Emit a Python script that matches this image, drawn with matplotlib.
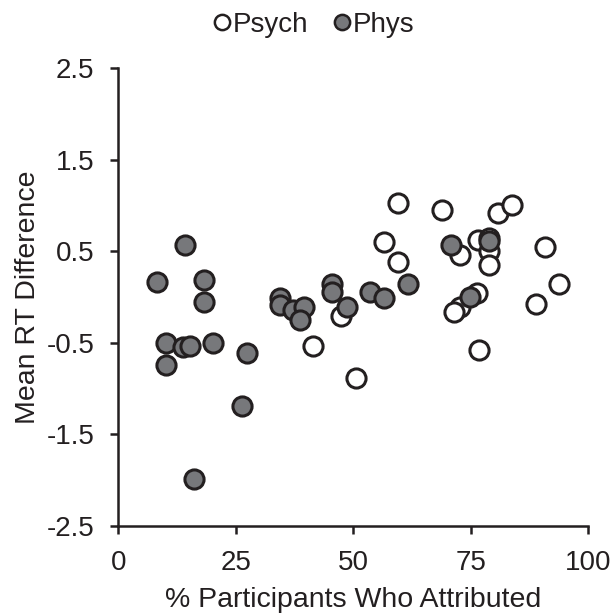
import matplotlib
matplotlib.use('Agg')
import matplotlib.pyplot as plt
from matplotlib.lines import Line2D

plt.rcParams['font.family'] = ['Liberation Sans', 'DejaVu Sans']

# psychological attributions
psych_x = [59.6, 68.8, 56.5, 59.6, 47.3, 41.4, 50.5, 80.8, 83.9, 72.7, 76.6,
           78.9, 78.9, 78.9, 90.8, 93.9, 88.9, 76.3, 72.7, 71.5, 76.8]
psych_y = [1.03, 0.955, 0.605, 0.386, -0.204, -0.532, -0.888, 0.915, 1.006, 0.459, 0.624,
           0.642, 0.50, 0.35, 0.544, 0.143, -0.08, 0.04, -0.105, -0.167, -0.579]

# physical attributions
phys_x = [14.2, 8.1, 18.2, 18.2, 10.1, 13.8, 15.2, 20.2, 10.1, 27.3, 26.2, 16.1, 34.3,
          34.3, 37.2, 39.5, 38.6, 45.4, 45.4, 53.6, 56.5, 48.6, 61.6, 70.8, 78.9, 74.9]
phys_y = [0.57, 0.16, 0.19, -0.057, -0.5, -0.543, -0.535, -0.505, -0.743, -0.615, -1.19, -1.99, -0.014,
          -0.087, -0.14, -0.105, -0.25, 0.143, 0.052, 0.052, -0.007, -0.105, 0.143, 0.565, 0.616, 0.0]

xticks = [0, 25, 50, 75, 100]
yticks = [-2.5, -1.5, -0.5, 0.5, 1.5, 2.5]

edge = '#231f20'
gray = '#77787b'

fig = plt.figure(figsize=(6.13, 6.13), dpi=100)
ax = fig.add_axes([0.1933, 0.1424, 0.7659, 0.7462])

ax.scatter(psych_x, psych_y, s=190, facecolor='white', edgecolor=edge, linewidth=2.2, zorder=3, clip_on=False)
ax.scatter(phys_x, phys_y, s=190, facecolor=gray, edgecolor=edge, linewidth=2.2, zorder=4, clip_on=False)

ax.set_xlim(0, 100)
ax.set_ylim(-2.5, 2.5)
ax.set_xticks(xticks)
ax.set_yticks(yticks)
ax.set_xticklabels([str(t) for t in xticks])
ax.set_yticklabels([str(t) for t in yticks])

for s in ['top', 'right']:
    ax.spines[s].set_visible(False)
for s in ['left', 'bottom']:
    ax.spines[s].set_linewidth(1.8)
    ax.spines[s].set_color(edge)
ax.tick_params(direction='out', length=5.5, width=1.8, color=edge, labelsize=20, labelcolor=edge)
ax.tick_params(axis='x', pad=12)
ax.tick_params(axis='y', pad=12)

ax.set_xlabel('% Participants Who Attributed', fontsize=20.5, color=edge, labelpad=8)
ax.set_ylabel('Mean RT Difference', fontsize=20.5, color=edge, labelpad=4)

handles = [
    Line2D([], [], linestyle='none', marker='o', markersize=11, markerfacecolor='white',
           markeredgecolor=edge, markeredgewidth=1.8),
    Line2D([], [], linestyle='none', marker='o', markersize=11, markerfacecolor=gray,
           markeredgecolor=edge, markeredgewidth=1.8),
]
fig.legend(handles, ['Psych', 'Phys'], loc='center', bbox_to_anchor=(0.508, 0.96), ncol=2,
           frameon=False, fontsize=20, handletextpad=-0.1, columnspacing=0.7, handlelength=1.0,
           labelcolor=edge)

fig.savefig('out.png', dpi=100)
